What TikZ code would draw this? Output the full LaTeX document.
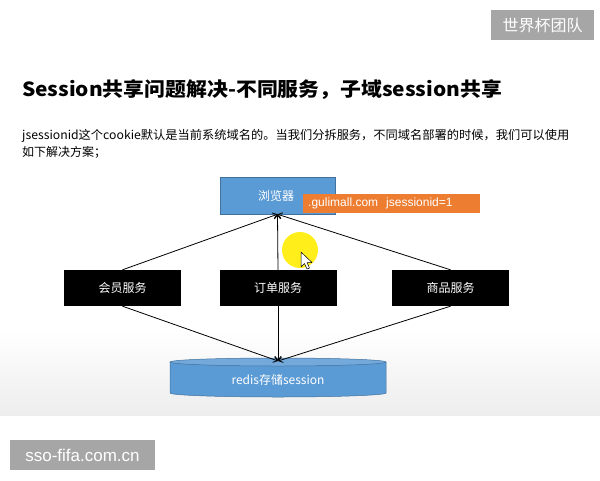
\documentclass[tikz,border=0pt]{standalone}
\usepackage{fontspec}
\setmainfont{Liberation Sans}
\newfontfamily\cjk{Noto Sans CJK SC}
\usetikzlibrary{arrows.meta}
\definecolor{bluefill}{HTML}{5B9BD5}
\definecolor{blueedge}{HTML}{41719C}
\definecolor{orangefill}{HTML}{ED7D31}
\definecolor{wmgray}{HTML}{A6A6A6}
\begin{document}
\begin{tikzpicture}[x=1pt,y=-1pt,
  svc/.style={fill=black,text=white,minimum width=117pt,minimum height=36pt,inner sep=0pt,font=\cjk\fontsize{12}{14}\selectfont},
  browserbox/.style={fill=bluefill,draw=blueedge,line width=0.5pt,text=white,minimum width=115pt,minimum height=37pt,inner sep=0pt,font=\cjk\fontsize{12}{14}\selectfont},
  tagbox/.style={fill=orangefill,text=white,minimum width=177pt,minimum height=19pt,inner sep=0pt,font=\fontsize{12}{14}\selectfont},
  wm/.style={fill=wmgray,text=white,inner sep=0pt},
  conn/.style={line width=0.8pt,-{Straight Barb[length=4pt,width=6pt]}}
]
\useasboundingbox (0,0) rectangle (600,480);
\fill[white] (0,0) rectangle (600,480);
\shade[top color=white,bottom color=black!7] (0,330) rectangle (600,415);

% watermarks
\node[wm,minimum width=103pt,minimum height=30pt,font=\cjk\fontsize{16}{18}\selectfont] (wm1) at (542.5,25) {世界杯团队};
\node[wm,minimum width=145pt,minimum height=30pt,font=\fontsize{17}{19}\selectfont] (wm2) at (82.5,455) {sso-fifa.com.cn};

% title and text
\node[anchor=west,inner sep=0pt,font=\cjk\bfseries\fontsize{19.5}{22}\selectfont] (title) at (22,90) {\scalebox{1.07}[1]{Session共享问题解决-不同服务，子域session共享}};
\node[anchor=north west,inner sep=0pt,align=left,font=\cjk\fontsize{12}{17}\selectfont] (para) at (22,129)
  {\scalebox{1.02}[1]{jsessionid这个cookie默认是当前系统域名的。当我们分拆服务，不同域名部署的时候，我们可以使用}\\如下解决方案；};

% browser and tag
\node[browserbox] (br) at (277.5,195.5) {\hspace*{-3pt}浏览器};
\node[tagbox,anchor=west,align=left,text width=167pt,inner xsep=5pt] (tag) at (303,203.5) {.gulimall.com\ \ jsessionid=1};

% services
\node[svc] (s1) at (122.5,288) {会员服务};
\node[svc] (s2) at (278,288) {订单服务};
\node[svc] (s3) at (450.5,288) {商品服务};

% redis cylinder
\fill[bluefill] (170,362) -- (170,393) arc[start angle=180,end angle=0,x radius=108,y radius=4] -- (386,362) -- cycle;
\draw[blueedge,line width=0.5pt] (170,362) -- (170,393) arc[start angle=180,end angle=0,x radius=108,y radius=4] -- (386,362);
\draw[blueedge,fill=bluefill!85!white,line width=0.5pt] (278,362) ellipse[x radius=108,y radius=4];
\coordinate (dbtop) at (278,361);
\node[inner sep=0pt,text=white,font=\cjk\fontsize{12}{14}\selectfont] (db) at (278,380) {redis存储session};

% connectors
\draw[conn] (s1.north) -- (br.south);
\draw[conn] (s2.north) -- (br.south);
\draw[conn] (s3.north) -- (br.south);
\draw[conn] (s1.south) -- (dbtop);
\draw[conn] (s2.south) -- (dbtop);
\draw[conn] (s3.south) -- (dbtop);

% pointer highlight
\fill[yellow!95!orange,opacity=0.9] (300,250) circle[radius=18];
\draw[black,fill=white,line width=0.5pt,line join=round]
  (301,252) -- (301,267) -- (304.5,263.5) -- (307,269) -- (309.5,268) -- (307,262.5) -- (312,262.5) -- cycle;
\end{tikzpicture}
\end{document}
